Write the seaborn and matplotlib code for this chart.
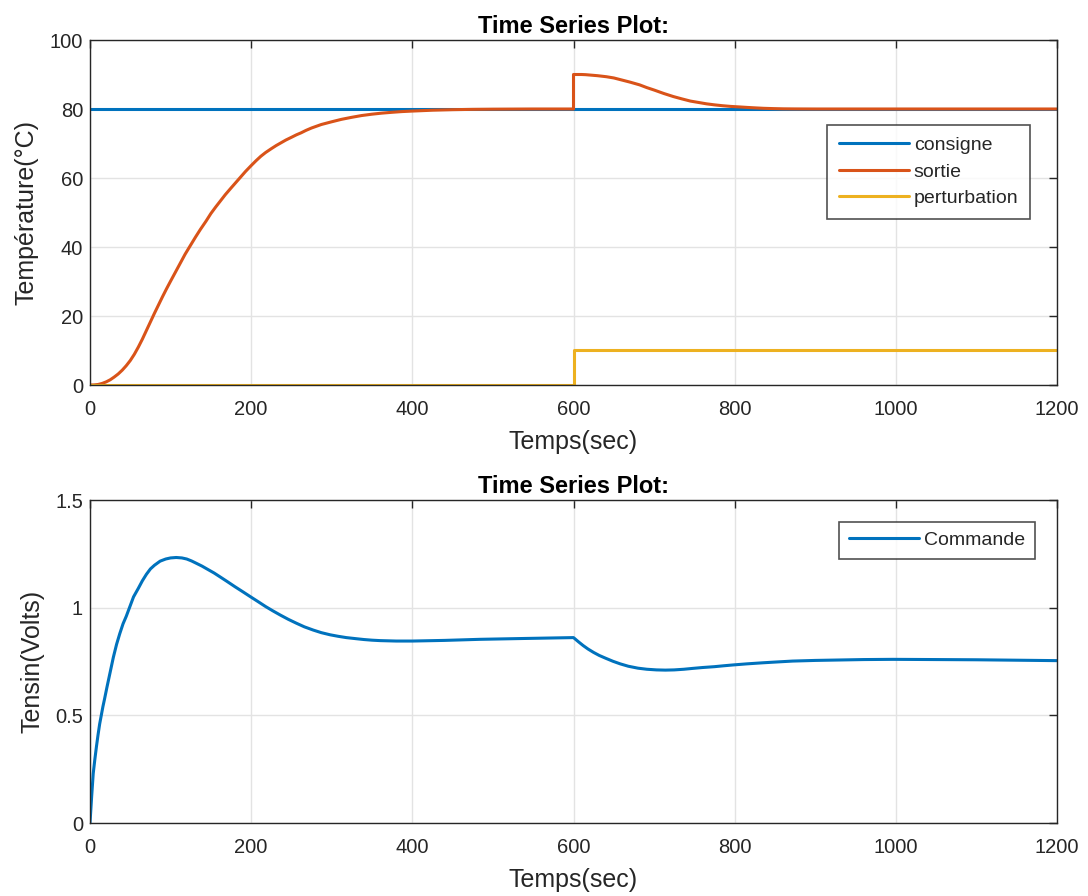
import numpy as np
import pandas as pd
import matplotlib
matplotlib.use("Agg")
import matplotlib.pyplot as plt
import seaborn as sns

sns.set_theme(style="white")
plt.rcParams['font.family'] = ['Liberation Sans', 'DejaVu Sans']

# consigne / perturbation (step signals)
t_consigne = [0, 1200]
consigne = [80, 80]

t_perturb = [0, 600, 600, 1200]
perturbation = [0, 0, 10, 10]

# sortie (temperature response)
t_sortie = [0, 5, 10, 15, 20, 25, 30, 35, 40, 45, 50, 55, 60, 65, 70, 75, 80, 85, 90, 95,
            100, 106, 112, 118, 125, 131, 137, 144, 150, 156, 162, 168, 175, 181, 187, 193,
            200, 206, 212, 218, 225, 231, 237, 243, 250, 256, 262, 268, 275, 287, 300, 312,
            325, 337, 350, 362, 375, 387, 400, 425, 450, 475, 500, 550, 600,
            600, 605, 610, 615, 620, 625, 630, 641, 650, 660, 670, 682, 691, 700, 712, 724,
            735, 745, 755, 765, 775, 785, 795, 806, 816, 826, 836, 847, 860, 875, 900, 1000,
            1200]
sortie = [0, 0.03, 0.15, 0.45, 0.9, 1.5, 2.3, 3.2, 4.3, 5.6, 7.1, 8.9, 11.0, 13.3, 15.8,
          18.3, 20.8, 23.2, 25.6, 27.9, 30.1, 32.7, 35.3, 37.9, 40.6, 42.9, 45.1, 47.5, 49.7,
          51.6, 53.4, 55.2, 57.1, 58.7, 60.3, 61.9, 63.6, 65.0, 66.3, 67.4, 68.5, 69.4, 70.2,
          71.0, 71.8, 72.5, 73.1, 73.8, 74.5, 75.5, 76.3, 77.0, 77.6, 78.1, 78.5, 78.8, 79.05,
          79.25, 79.4, 79.65, 79.8, 79.9, 79.95, 80.0, 80.0,
          90.0, 90.0, 90.0, 89.95, 89.85, 89.75, 89.65, 89.35, 89.0, 88.4, 87.8, 87.0, 86.2,
          85.5, 84.5, 83.6, 82.9, 82.3, 81.9, 81.5, 81.2, 80.95, 80.75, 80.6, 80.45, 80.32,
          80.2, 80.12, 80.05, 80.02, 80.0, 80.0, 80.0]

# commande (control voltage)
t_commande = [0, 2, 4, 6, 8, 10, 12, 14, 16, 18, 21, 25, 29, 33, 37, 41, 45, 50, 54, 60, 65,
              70, 75, 80, 87, 94, 100, 107, 114, 120, 126, 132, 139, 146, 154, 161, 170, 180,
              190, 199, 209, 218, 227, 236, 246, 256, 266, 277, 287, 298, 308, 318, 330, 340,
              350, 360, 380, 400, 440, 484, 540, 600, 606, 612, 618, 625, 632, 640, 649, 658,
              668, 680, 691, 703, 714, 725, 737, 748, 760, 775, 786, 798, 815, 835, 853, 872,
              900, 930, 960, 996, 1050, 1100, 1150, 1200]
commande = [0, 0.12, 0.23, 0.295, 0.355, 0.41, 0.46, 0.50, 0.54, 0.575, 0.63, 0.70, 0.77,
            0.83, 0.88, 0.925, 0.96, 1.01, 1.05, 1.09, 1.125, 1.155, 1.18, 1.197, 1.216, 1.226,
            1.231, 1.233, 1.231, 1.226, 1.217, 1.206, 1.193, 1.178, 1.161, 1.144, 1.122, 1.097,
            1.073, 1.051, 1.027, 1.005, 0.985, 0.966, 0.946, 0.928, 0.911, 0.896, 0.884, 0.874,
            0.867, 0.861, 0.856, 0.852, 0.849, 0.847, 0.845, 0.845, 0.848, 0.853, 0.857, 0.861,
            0.842, 0.824, 0.808, 0.792, 0.778, 0.765, 0.751, 0.739, 0.728, 0.719, 0.714, 0.711,
            0.710, 0.711, 0.714, 0.718, 0.722, 0.726, 0.730, 0.734, 0.739, 0.744, 0.748, 0.752,
            0.755, 0.757, 0.759, 0.760, 0.759, 0.758, 0.756, 0.754]

c_blue = "#0072BD"
c_orange = "#D95319"
c_yellow = "#EDB120"
dark = "#262626"

fig = plt.figure(figsize=(10.88, 8.96), dpi=100)
ax1 = fig.add_axes([90 / 1088, 1 - 385 / 896, 967 / 1088, 345 / 896])
ax2 = fig.add_axes([90 / 1088, 1 - 823 / 896, 967 / 1088, 323 / 896])

lw = 2.2
sns.lineplot(x=t_consigne, y=consigne, ax=ax1, color=c_blue, lw=lw, label="consigne",
             estimator=None, sort=False)
sns.lineplot(x=t_sortie, y=sortie, ax=ax1, color=c_orange, lw=lw, label="sortie",
             estimator=None, sort=False)
sns.lineplot(x=t_perturb, y=perturbation, ax=ax1, color=c_yellow, lw=lw, label="perturbation",
             estimator=None, sort=False)
sns.lineplot(x=t_commande, y=commande, ax=ax2, color=c_blue, lw=lw, label="Commande",
             estimator=None, sort=False)

ax1.set_ylim(0, 100)
ax1.set_yticks([0, 20, 40, 60, 80, 100])
ax2.set_ylim(0, 1.5)
ax2.set_yticks([0, 0.5, 1, 1.5])
ax2.set_yticklabels(["0", "0.5", "1", "1.5"])

for ax in (ax1, ax2):
    ax.set_xlim(0, 1200)
    ax.set_xticks(range(0, 1201, 200))
    ax.grid(True, color="#e3e3e3", lw=1)
    ax.set_axisbelow(True)
    ax.tick_params(direction="in", length=6, width=1, colors=dark, labelsize=14.5,
                   top=True, right=True, labelcolor=dark)
    ax.tick_params(axis="x", pad=11)
    ax.tick_params(axis="y", pad=5)
    for s in ax.spines.values():
        s.set_color(dark)
        s.set_linewidth(1)
    ax.set_xlabel("Temps(sec)", fontsize=18, color=dark, labelpad=8)
    ax.set_title("Time Series Plot:", fontsize=17, fontweight="bold", color="black", pad=5)

ax1.set_ylabel("Température(°C)", fontsize=18, color=dark, labelpad=8)
ax2.set_ylabel("Tensin(Volts)", fontsize=18, color=dark, labelpad=8)

leg1 = ax1.legend(loc="upper right", bbox_to_anchor=(0.972, 0.754), borderaxespad=0,
                  fontsize=14, frameon=True, fancybox=False, edgecolor=dark,
                  handlelength=3.6, handletextpad=0.25, borderpad=0.6, labelspacing=0.46)
leg1.get_frame().set_linewidth(1.2)
leg2 = ax2.legend(loc="upper right", bbox_to_anchor=(0.977, 0.932), borderaxespad=0,
                  fontsize=14, frameon=True, fancybox=False, edgecolor=dark,
                  handlelength=3.6, handletextpad=0.25, borderpad=0.5)
leg2.get_frame().set_linewidth(1.2)

fig.savefig("out.png", dpi=100, facecolor="white")
